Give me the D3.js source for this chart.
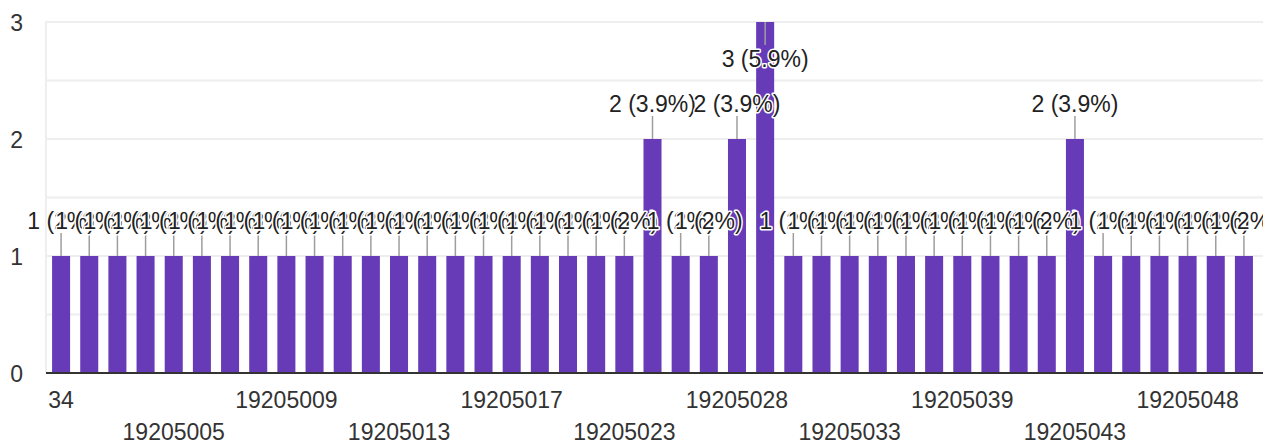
<!DOCTYPE html>
<html>
<head>
<meta charset="utf-8">
<script src="https://cdn.jsdelivr.net/npm/d3@7"></script>
<style>
  body { margin: 0; background: #fff; }
  svg { display: block; font-family: Arial, "Liberation Sans", sans-serif; }
</style>
</head>
<body>
<svg class="target" width="1279" height="443"></svg>
<script>
// categories (student ids) and response counts
const categories = [
  "34", "19205001", "19205002", "19205003", "19205005", "19205006", "19205007", "19205008",
  "19205009", "19205010", "19205011", "19205012", "19205013", "19205014", "19205015", "19205016",
  "19205017", "19205018", "19205020", "19205021", "19205023", "19205024", "19205025", "19205026",
  "19205028", "19205029", "19205030", "19205031", "19205033", "19205034", "19205035", "19205037",
  "19205039", "19205040", "19205041", "19205042", "19205043", "19205044", "19205045", "19205046",
  "19205048", "19205049", "19205050"
];
const counts = [
  1, 1, 1, 1, 1, 1, 1, 1,
  1, 1, 1, 1, 1, 1, 1, 1,
  1, 1, 1, 1, 1, 2, 1, 1,
  2, 3, 1, 1, 1, 1, 1, 1,
  1, 1, 1, 1, 2, 1, 1, 1,
  1, 1, 1
];
const totalResponses = 51;
const yTicks = [0, 1, 2, 3];
const yMinor = [0.5, 1.5, 2.5];
const xTickLabels = ["34", "19205005", "19205009", "19205013", "19205017", "19205023",
  "19205028", "19205033", "19205039", "19205043", "19205048"];

const data = categories.map((c, i) => ({ name: c, value: counts[i] }));

const plotLeft = 46, plotRight = 1263, plotTop = 22, plotBottom = 373;
const fontSize = 23;
const svg = d3.select(".target");

const x = d3.scaleBand()
  .domain(categories)
  .range([47, 1258])
  .paddingInner(0.36)
  .paddingOuter(0.18);

const y = d3.scaleLinear()
  .domain([0, 3])
  .range([plotBottom, plotTop]);

// gridlines
svg.append("g")
  .selectAll("line")
  .data(yMinor.concat(yTicks.slice(1)))
  .enter()
  .append("line")
  .attr("x1", plotLeft)
  .attr("x2", plotRight)
  .attr("y1", (d) => y(d))
  .attr("y2", (d) => y(d))
  .attr("stroke", "#eeeeee")
  .attr("stroke-width", 2);

svg.append("line")
  .attr("x1", plotLeft).attr("x2", plotLeft)
  .attr("y1", plotTop - 1).attr("y2", plotBottom)
  .attr("stroke", "#eeeeee")
  .attr("stroke-width", 2);

// y axis labels
const yAxis = svg.append("g")
  .attr("transform", "translate(23,0)")
  .call(d3.axisLeft(y).tickValues(yTicks).tickSize(0).tickPadding(0).tickFormat(d3.format("d")));
yAxis.select(".domain").remove();
yAxis.selectAll("text")
  .attr("font-size", fontSize)
  .attr("font-family", "Arial, 'Liberation Sans', sans-serif")
  .attr("fill", "#333")
  .attr("dy", "0.35em");

// bars
svg.append("g")
  .selectAll("rect")
  .data(data)
  .enter()
  .append("rect")
  .attr("x", (d) => x(d.name))
  .attr("y", (d) => y(d.value))
  .attr("width", x.bandwidth())
  .attr("height", (d) => plotBottom - y(d.value))
  .attr("fill", "#673ab7");

// baseline
svg.append("line")
  .attr("x1", plotLeft).attr("x2", plotRight)
  .attr("y1", plotBottom).attr("y2", plotBottom)
  .attr("stroke", "#333")
  .attr("stroke-width", 2);

// x axis labels, every fourth, staggered on two rows
const xAxis = svg.append("g")
  .attr("transform", `translate(0,${plotBottom})`)
  .call(d3.axisBottom(x).tickValues(xTickLabels).tickSize(0).tickPadding(0));
xAxis.select(".domain").remove();
xAxis.selectAll("text")
  .attr("font-size", fontSize)
  .attr("font-family", "Arial, 'Liberation Sans', sans-serif")
  .attr("fill", "#333")
  .attr("dy", null)
  .attr("y", (d, i) => (i % 2 === 0 ? 35 : 67));

// value labels with leader lines
svg.append("clipPath").attr("id", "clip")
  .append("rect").attr("x", 0).attr("y", 0).attr("width", plotRight).attr("height", plotBottom);

const labels = svg.append("g").attr("clip-path", "url(#clip)");
const cx = (d) => x(d.name) + x.bandwidth() / 2;
const inside = (d) => y(d.value) - 27 - fontSize < 0;

labels.selectAll("line")
  .data(data)
  .enter()
  .append("line")
  .attr("x1", cx).attr("x2", cx)
  .attr("y1", (d) => y(d.value))
  .attr("y2", (d) => (inside(d) ? y(d.value) + 23 : y(d.value) - 23))
  .attr("stroke", "#9e9e9e")
  .attr("stroke-width", 1.5);

labels.selectAll("text")
  .data(data)
  .enter()
  .append("text")
  .attr("x", cx)
  .attr("y", (d) => (inside(d) ? y(d.value) + 45 : y(d.value) - 27))
  .attr("text-anchor", "middle")
  .attr("font-size", fontSize)
  .attr("fill", "#222")
  .attr("stroke", "#fff")
  .attr("stroke-width", 3)
  .attr("stroke-linejoin", "round")
  .attr("paint-order", "stroke")
  .text((d) => {
    const pct = (d.value / totalResponses) * 100;
    const s = pct >= 2.5 ? pct.toFixed(1) : Math.round(pct).toString();
    return `${d.value} (${s}%)`;
  });
</script>
</body>
</html>
